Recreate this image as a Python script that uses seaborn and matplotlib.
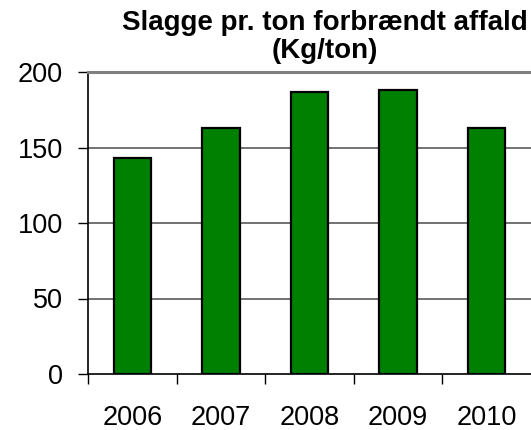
import matplotlib
matplotlib.use("Agg")
import matplotlib.pyplot as plt
import numpy as np
import seaborn as sns

years = ["2006", "2007", "2008", "2009", "2010"]
slagge = [143, 163, 187, 188, 163]
yticks = [0, 50, 100, 150, 200]

sns.set_style("white")
plt.rcParams["font.family"] = ["Liberation Sans", "DejaVu Sans"]
plt.rcParams["text.color"] = "black"
plt.rcParams["xtick.color"] = "black"
plt.rcParams["ytick.color"] = "black"

fig = plt.figure(figsize=(5.31, 4.30), dpi=100)
ax = fig.add_axes([88 / 531, 56 / 430, 443 / 531, 302 / 430])

sns.barplot(x=years, y=slagge, color="#008000", saturation=1, width=0.42,
            edgecolor="black", linewidth=1.6, ax=ax, zorder=3)

ax.set_ylim(0, 200)
ax.set_xlim(-0.5, 4.5)
ax.set_yticks(yticks)
ax.set_yticklabels([str(v) for v in yticks], fontsize=19.5)
for v in yticks[1:-1]:
    ax.axhline(v, color="#5a5a5a", lw=1.2, zorder=1)

# ticks between categories, labels centred under the bars
ax.set_xticks(np.arange(-0.5, 4.0, 1.0))
ax.set_xticklabels([])
ax.set_xticks(np.arange(len(years)), minor=True)
ax.set_xticklabels(years, minor=True, fontsize=19.5)
ax.tick_params(axis="x", which="major", length=7, width=1, color="black", direction="out", bottom=True)
ax.tick_params(axis="x", which="minor", length=0, pad=22)
ax.tick_params(axis="y", length=7, width=1, color="black", direction="out", left=True, pad=11)
ax.set_xlabel("")
ax.set_ylabel("")

for s in ["left", "bottom"]:
    ax.spines[s].set_color("black")
    ax.spines[s].set_linewidth(1.2)
ax.spines["right"].set_visible(False)
ax.spines["top"].set_color("#808080")
ax.spines["top"].set_linewidth(2.2)

fig.text(325 / 531, 1 - 10 / 430, "Slagge pr. ton forbrændt affald\n(Kg/ton)",
         ha="center", va="top", fontsize=20, fontweight="bold", linespacing=1.1)

fig.savefig("out.png", dpi=100)
